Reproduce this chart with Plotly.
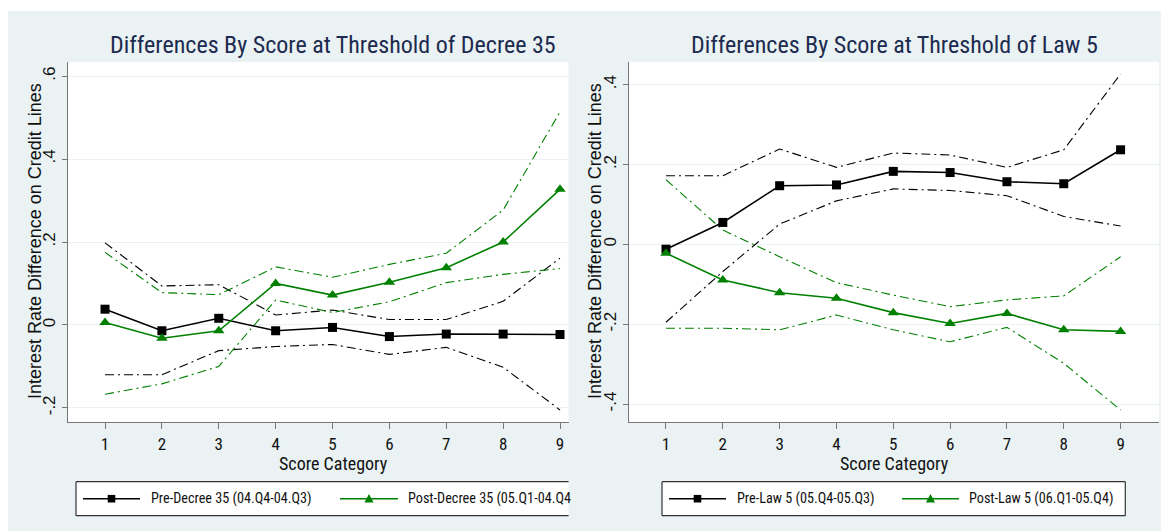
import plotly.graph_objects as go

W, H = 1161, 531

# ---------------- data ----------------
score = [1, 2, 3, 4, 5, 6, 7, 8, 9]

pre_d35 = [0.038, -0.014, 0.016, -0.014, -0.006, -0.028, -0.022, -0.022, -0.023]
pre_d35_hi = [0.198, 0.094, 0.097, 0.024, 0.036, 0.013, 0.013, 0.057, 0.161]
pre_d35_lo = [-0.120, -0.120, -0.062, -0.052, -0.047, -0.071, -0.054, -0.102, -0.205]
post_d35 = [0.006, -0.032, -0.014, 0.100, 0.072, 0.103, 0.138, 0.200, 0.327]
post_d35_hi = [0.175, 0.078, 0.073, 0.140, 0.115, 0.146, 0.173, 0.277, 0.514]
post_d35_lo = [-0.167, -0.142, -0.100, 0.060, 0.030, 0.056, 0.102, 0.122, 0.136]

pre_l5 = [-0.012, 0.055, 0.147, 0.149, 0.183, 0.180, 0.157, 0.152, 0.237]
pre_l5_hi = [0.172, 0.172, 0.239, 0.193, 0.229, 0.224, 0.193, 0.237, 0.427]
pre_l5_lo = [-0.195, -0.068, 0.051, 0.109, 0.139, 0.135, 0.122, 0.070, 0.046]
post_l5 = [-0.022, -0.089, -0.121, -0.135, -0.171, -0.198, -0.173, -0.214, -0.218]
post_l5_hi = [0.162, 0.036, -0.031, -0.096, -0.127, -0.156, -0.139, -0.129, -0.031]
post_l5_lo = [-0.210, -0.210, -0.214, -0.177, -0.214, -0.244, -0.208, -0.298, -0.415]

titles = ["Differences By Score at Threshold of Decree 35",
          "Differences By Score at Threshold of Law 5"]
x_title = "Score Category"
y_title = "Interest Rate Difference on Credit Lines"
legend_left = ["Pre-Decree 35 (04.Q4-04.Q3)", "Post-Decree 35 (05.Q1-04.Q4"]
legend_right = ["Pre-Law 5 (05.Q4-05.Q3)", "Post-Law 5 (06.Q1-05.Q4)"]
yticks_left = [-0.2, 0, 0.2, 0.4, 0.6]
ytext_left = ["-.2", "0", ".2", ".4", ".6"]
yticks_right = [-0.4, -0.2, 0, 0.2, 0.4]
ytext_right = ["-.4", "-.2", "0", ".2", ".4"]

# ---------------- style ----------------
BG = "#EAF2F3"
BLACK = "#000000"
GREEN = "#008000"
TITLE_C = "#1c2b4f"
NARROW = "Roboto Condensed, Liberation Sans Narrow, sans-serif"
SANS = "Liberation Sans, Arial, sans-serif"
CI_DASH = "9px,4px,2px,4px"


def px(x):
    return x / W


def py(y):
    return 1 - y / H


fig = go.Figure()


def add_panel(xa, ya, pre, pre_hi, pre_lo, post, post_hi, post_lo):
    for ci, col in ((pre_hi, BLACK), (pre_lo, BLACK), (post_hi, GREEN), (post_lo, GREEN)):
        fig.add_trace(go.Scatter(x=score, y=ci, mode="lines", xaxis=xa, yaxis=ya,
                                 line=dict(color=col, width=1.1, dash=CI_DASH),
                                 showlegend=False, hoverinfo="skip"))
    fig.add_trace(go.Scatter(x=score, y=pre, mode="lines+markers", xaxis=xa, yaxis=ya,
                             line=dict(color=BLACK, width=1.6),
                             marker=dict(symbol="square", size=9, color=BLACK),
                             showlegend=False))
    fig.add_trace(go.Scatter(x=score, y=post, mode="lines+markers", xaxis=xa, yaxis=ya,
                             line=dict(color=GREEN, width=1.6),
                             marker=dict(symbol="triangle-up", size=10, color=GREEN),
                             showlegend=False))


add_panel("x", "y", pre_d35, pre_d35_hi, pre_d35_lo, post_d35, post_d35_hi, post_d35_lo)
add_panel("x2", "y2", pre_l5, pre_l5_hi, pre_l5_lo, post_l5, post_l5_hi, post_l5_lo)

common_x = dict(tickvals=score, ticks="outside", ticklen=6, tickcolor="#777777",
                showline=True, linecolor="#777777", linewidth=1.3, showgrid=False,
                zeroline=False, tickfont=dict(family=NARROW, size=17, color="#111111"),
                fixedrange=True)
common_y = dict(ticks="outside", ticklen=5, tickcolor="#777777", tickangle=-90,
                showline=True, linecolor="#777777", linewidth=1.3, showgrid=True,
                gridcolor=BG, gridwidth=1.2, zeroline=False,
                tickfont=dict(family=SANS, size=17, color="#111111"), fixedrange=True)

fig.update_layout(
    width=W, height=H, margin=dict(l=0, r=0, t=0, b=0),
    paper_bgcolor=BG, plot_bgcolor="white", showlegend=False,
    xaxis=dict(domain=[px(68), px(568.6)], range=[0.349, 9.151], anchor="y", **common_x),
    yaxis=dict(domain=[py(422), py(62)], range=[-0.234, 0.634], anchor="x",
               tickvals=yticks_left, ticktext=ytext_left, **common_y),
    xaxis2=dict(domain=[px(629), px(1159)], range=[0.349, 9.676], anchor="y2", **common_x),
    yaxis2=dict(domain=[py(422), py(62)], range=[-0.445, 0.457], anchor="x2",
                tickvals=yticks_right, ticktext=ytext_right, **common_y),
)

shapes = [
    dict(type="rect", xref="paper", yref="paper", x0=0, x1=1, y0=py(11), y1=1,
         fillcolor="white", line=dict(width=0), layer="below"),
    dict(type="rect", xref="paper", yref="paper", x0=0, x1=px(8), y0=0, y1=1,
         fillcolor="white", line=dict(width=0), layer="below"),
]
annotations = []

for cx, t, yx in ((333, titles[0], 35), (894, titles[1], 595)):
    annotations.append(dict(xref="paper", yref="paper", x=px(cx), y=py(45), text=t,
                            showarrow=False, xanchor="center", yanchor="middle",
                            font=dict(family=NARROW, size=24, color=TITLE_C)))
    annotations.append(dict(xref="paper", yref="paper", x=px(cx), y=py(463), text=x_title,
                            showarrow=False, xanchor="center", yanchor="middle",
                            font=dict(family=NARROW, size=18, color="#111111")))
    annotations.append(dict(xref="paper", yref="paper", x=px(yx), y=py(241), text=y_title,
                            showarrow=False, xanchor="center", yanchor="middle", textangle=-90,
                            font=dict(family=SANS, size=18, color="#111111")))

LT, LB = 481.7, 515.7
LC = (LT + LB) / 2


def legend_box(x0, x1, right_border=True):
    shapes.append(dict(type="rect", xref="paper", yref="paper", x0=px(x0), x1=px(x1),
                       y0=py(LB), y1=py(LT), fillcolor="white", line=dict(width=0)))
    segs = [(x0, LT, x1, LT), (x0, LB, x1, LB), (x0, LT, x0, LB)]
    if right_border:
        segs.append((x1, LT, x1, LB))
    for a, b, c, d in segs:
        shapes.append(dict(type="line", xref="paper", yref="paper", x0=px(a), y0=py(b),
                           x1=px(c), y1=py(d), line=dict(color="#333333", width=1.2)))


def legend_item(lx0, lx1, color, symbol, label, tx):
    shapes.append(dict(type="line", xref="paper", yref="paper", x0=px(lx0), y0=py(LC),
                       x1=px(lx1), y1=py(LC), line=dict(color=color, width=1.6)))
    mx = (lx0 + lx1) / 2
    if symbol == "square":
        s = 3.8
        shapes.append(dict(type="rect", xref="paper", yref="paper", x0=px(mx - s), x1=px(mx + s),
                           y0=py(LC + s), y1=py(LC - s), fillcolor=color, line=dict(width=0)))
    else:
        s = 4.6
        path = "M {} {} L {} {} L {} {} Z".format(px(mx - s), py(LC + s * 0.85),
                                                 px(mx + s), py(LC + s * 0.85),
                                                 px(mx), py(LC - s))
        shapes.append(dict(type="path", xref="paper", yref="paper", path=path,
                           fillcolor=color, line=dict(width=0)))
    annotations.append(dict(xref="paper", yref="paper", x=px(tx), y=py(LC), text=label,
                            showarrow=False, xanchor="left", yanchor="middle",
                            font=dict(family=NARROW, size=14.2, color="#111111")))


legend_box(76, 568.6, right_border=False)
legend_item(83, 140, BLACK, "square", legend_left[0], 149)
legend_item(340, 398, GREEN, "triangle", legend_left[1], 406)

legend_box(662, 1125.3)
legend_item(669, 726, BLACK, "square", legend_right[0], 735)
legend_item(902, 959, GREEN, "triangle", legend_right[1], 967)

fig.update_layout(shapes=shapes, annotations=annotations)
fig.write_html("out.html")
